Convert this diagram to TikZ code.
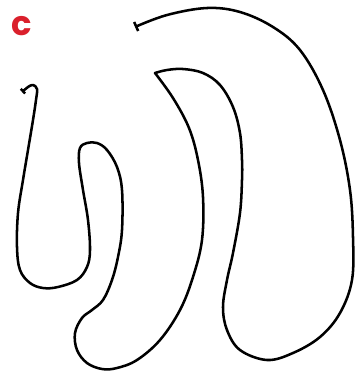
\documentclass[tikz,border=0pt]{standalone}
\usepackage{fontspec}
\setmainfont{Poppins}
\usepackage{tikz}
\usetikzlibrary{arrows.meta}
\usepackage{xcolor}
\definecolor{panelred}{RGB}{218,32,44}

\begin{document}
\begin{tikzpicture}[x=0.25mm, y=-0.25mm, strand/.style={line width=1.8pt, line join=round, line cap=round}]
    \useasboundingbox (0,0) rectangle (360,372);
    \node (lbl) [text=panelred, font=\fontsize{24}{24}\selectfont\bfseries, inner sep=0pt] at (22,26) {c};
    \draw[strand, {Bar[width=4.5pt]}-{Bar[width=7pt]}]
        plot[smooth, tension=0.6] coordinates {(22,92) (28,87) (33,85) (37,89) (36,100) (33,120) (28,150) (23,180) (18,213) (17,247) (20,270) (30,283) (43,288) (58,287) (77,280) (87,267) (90,250) (88,220) (83,190) (79,163) (80,148) (87,143) (97,143) (107,150) (117,167) (122,190) (122,230) (118,257) (112,280) (103,300) (92,310) (82,318) (75,333) (77,350) (87,363) (102,369) (117,368) (137,360) (160,340) (180,310) (193,277) (202,240) (203,197) (198,160) (189,128) (173,98) (155,73)}
        -- plot[smooth, tension=0.6] coordinates {(155,73) (167,70) (183,69) (203,73) (220,85) (233,107) (240,133) (242,160) (242,180) (240,213) (233,253) (227,280) (223,307) (227,330) (240,350) (267,360) (293,353) (320,337) (340,313) (352,280) (353,237) (350,190) (340,140) (323,90) (300,50) (273,27) (240,12) (207,8) (167,15) (135,27)};
\end{tikzpicture}
\end{document}
